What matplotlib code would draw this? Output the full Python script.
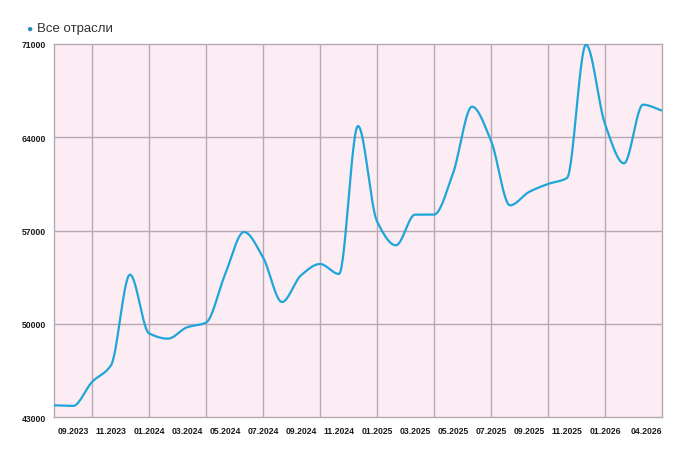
import numpy as np
import matplotlib
matplotlib.use("Agg")
import matplotlib.pyplot as plt

months = ["08.2023", "09.2023", "10.2023", "11.2023", "12.2023",
          "01.2024", "02.2024", "03.2024", "04.2024", "05.2024", "06.2024",
          "07.2024", "08.2024", "09.2024", "10.2024", "11.2024", "12.2024",
          "01.2025", "02.2025", "03.2025", "04.2025", "05.2025", "06.2025",
          "07.2025", "08.2025", "09.2025", "10.2025", "11.2025", "12.2025",
          "01.2026", "02.2026", "03.2026", "04.2026"]
values = [43900, 43850, 45650, 46900, 53700,
          49300, 48900, 49750, 50100, 53700, 56900,
          55000, 51650, 53650, 54500, 53750, 64850,
          57700, 55900, 58200, 58200, 61300, 66300,
          63750, 58900, 59900, 60500, 60950, 70950,
          65000, 62050, 66450, 66000]
series_name = "Все отрасли"
tick_labels = ["09.2023", "11.2023", "01.2024", "03.2024", "05.2024", "07.2024",
               "09.2024", "11.2024", "01.2025", "03.2025", "05.2025", "07.2025",
               "09.2025", "11.2025", "01.2026", "04.2026"]
y_ticks = [43000, 50000, 57000, 64000, 71000]


def monotone_curve(x, y, n=30):
    x = np.asarray(x, float)
    y = np.asarray(y, float)
    h = np.diff(x)
    d = np.diff(y) / h
    m = np.zeros_like(y)
    m[0] = d[0]
    m[-1] = d[-1]
    for i in range(1, len(y) - 1):
        if d[i - 1] * d[i] <= 0:
            m[i] = 0
        else:
            w1 = 2 * h[i] + h[i - 1]
            w2 = h[i] + 2 * h[i - 1]
            m[i] = (w1 + w2) / (w1 / d[i - 1] + w2 / d[i])
    xs, ys = [], []
    for i in range(len(x) - 1):
        t = np.linspace(0, 1, n, endpoint=False)
        h00 = 2 * t**3 - 3 * t**2 + 1
        h10 = t**3 - 2 * t**2 + t
        h01 = -2 * t**3 + 3 * t**2
        h11 = t**3 - t**2
        xs.append(x[i] + t * h[i])
        ys.append(h00 * y[i] + h10 * h[i] * m[i] + h01 * y[i + 1] + h11 * h[i] * m[i + 1])
    xs.append([x[-1]])
    ys.append([y[-1]])
    return np.concatenate(xs), np.concatenate(ys)


plt.rcParams['font.family'] = ['Liberation Sans', 'DejaVu Sans']

fig = plt.figure(figsize=(6.88, 4.56), dpi=100)
ax = fig.add_axes([54 / 688, (456 - 418.3) / 456, 608 / 688, 373.3 / 456])
ax.set_facecolor("#fcedf4")

x = np.arange(len(months))
cx, cy = monotone_curve(x, values)
line_color = "#1fa6d9"
ax.plot(cx, cy, color=line_color, lw=1.6, solid_capstyle="round", zorder=3)

ax.set_xlim(0, len(months) - 1)
ax.set_ylim(y_ticks[0], y_ticks[-1])

grid_color = "#b7a9b3"
for gx in range(2, len(months) - 1, 3):
    ax.axvline(gx, color=grid_color, lw=1.0, zorder=1)
for gy in y_ticks[1:-1]:
    ax.axhline(gy, color=grid_color, lw=1.0, zorder=1)
for s in ax.spines.values():
    s.set_color(grid_color)
    s.set_linewidth(1.0)

tick_pos = [months.index(l) for l in tick_labels]
ax.set_xticks(tick_pos)
ax.set_xticklabels(tick_labels, fontsize=6.2, fontweight="bold", color="#1a1a1a")
ax.get_xticklabels()[-1].set_horizontalalignment("right")
ax.set_yticks(y_ticks)
ax.set_yticklabels([str(v) for v in y_ticks], fontsize=6.2, fontweight="bold", color="#1a1a1a")
ax.tick_params(axis="x", length=0, pad=6)
ax.tick_params(axis="y", length=0, pad=6)

fig.text(29 / 688, 1 - 29 / 456, "●", color="#2a86bf", fontsize=7.5, ha="center", va="center")
fig.text(37 / 688, 1 - 29 / 456, series_name, color="#333333", fontsize=9.5, ha="left", va="center")

fig.savefig("out.png", dpi=100, facecolor="white")
